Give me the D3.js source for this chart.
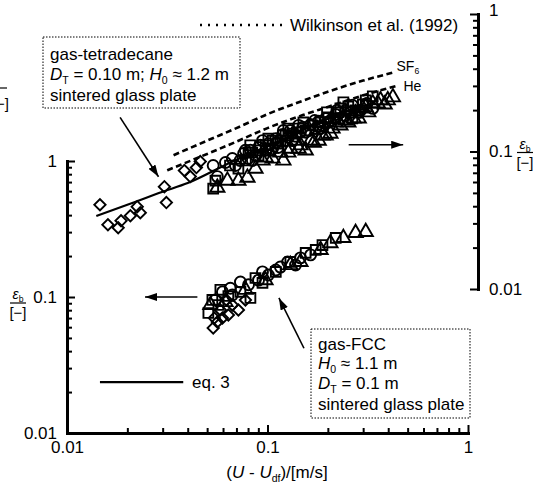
<!DOCTYPE html>
<html lang="en">
<head>
<meta charset="UTF-8">
<title>Gas holdup vs excess gas velocity</title>
<script src="https://d3js.org/d3.v7.min.js"></script>
<style>
  body { margin: 0; background: #fff; }
  svg { font-family: "Liberation Sans", Arial, sans-serif; }
  .axis path { stroke: #000; stroke-width: 3; }
  .axis line { stroke: #000; stroke-width: 2; }
  .axis text { font-size: 17px; fill: #000; font-family: "Liberation Sans", Arial, sans-serif; }
  .note { font-size: 17px; fill: #000; }
</style>
</head>
<body>
<svg id="chart" width="535" height="486"></svg>
<script>
// major tick labels
const xTickLabels = ["0.01", "0.1", "1"];
const yTickLabels = ["0.01", "0.1", "1"];

// gas-tetradecane, read against the right axis
const upperDiamonds = [[0.0146,0.0410],[0.0160,0.0293],[0.0180,0.0279],[0.0186,0.0313],[0.0207,0.0341],
  [0.0224,0.0397],[0.0232,0.0359],[0.0306,0.0555],[0.0313,0.0425],[0.0385,0.0727],[0.0412,0.0657],
  [0.0462,0.0845],[0.0442,0.0764]];
const upperCircles = [[0.0536,0.0791],[0.0562,0.0657],[0.0668,0.0889],[0.0760,0.0967],[0.0822,0.102],
  [0.0902,0.107],[0.0944,0.120],[0.101,0.114],[0.110,0.124],[0.119,0.133],[0.130,0.142],[0.138,0.129],
  [0.150,0.150],[0.164,0.157],[0.180,0.166],[0.195,0.174],[0.219,0.186],[0.245,0.199],[0.073,0.086],
  [0.087,0.0935],[0.123,0.120],[0.146,0.138],[0.174,0.147],[0.206,0.168],[0.098,0.102],[0.113,0.107],
  [0.127,0.127],[0.155,0.138],[0.188,0.155],[0.231,0.174],[0.260,0.193],[0.291,0.199],[0.080,0.0889],
  [0.106,0.105],[0.0617,0.0831],[0.0692,0.0791],[0.0776,0.102],[0.0841,0.086],[0.0922,0.111],
  [0.104,0.102],[0.111,0.116],[0.120,0.142],[0.133,0.120],[0.143,0.155],[0.160,0.142],[0.172,0.168],
  [0.184,0.147],[0.201,0.163],[0.222,0.199],[0.244,0.183],[0.265,0.217],[0.285,0.193],[0.313,0.224],
  [0.335,0.206]];
const upperSquares = [[0.0536,0.0537],[0.055,0.0614],[0.065,0.0791],[0.078,0.086],[0.084,0.0983],
  [0.092,0.102],[0.098,0.111],[0.106,0.120],[0.113,0.114],[0.123,0.131],[0.133,0.135],[0.143,0.147],
  [0.155,0.142],[0.168,0.155],[0.184,0.163],[0.201,0.177],[0.226,0.193],[0.239,0.228],[0.253,0.213],
  [0.275,0.199],[0.299,0.220],[0.082,0.111],[0.0716,0.0751],[0.0804,0.0983],[0.0902,0.0935],
  [0.101,0.124],[0.116,0.120],[0.127,0.147],[0.140,0.138],[0.151,0.163],[0.180,0.152],[0.198,0.193],
  [0.214,0.174],[0.231,0.206],[0.265,0.174],[0.309,0.236],[0.335,0.252]];
const upperTriangles = [[0.0562,0.0546],[0.0631,0.0614],[0.0716,0.0614],[0.0794,0.0646],[0.098,0.0904],
  [0.116,0.0983],[0.120,0.086],[0.130,0.105],[0.146,0.111],[0.155,0.102],[0.170,0.116],[0.180,0.120],
  [0.195,0.131],[0.211,0.147],[0.231,0.155],[0.245,0.168],[0.269,0.174],[0.299,0.206],[0.309,0.210],
  [0.335,0.224],[0.355,0.224],[0.366,0.236],[0.398,0.236],[0.422,0.248],[0.275,0.189],[0.219,0.163],
  [0.138,0.120],[0.0871,0.0751],[0.0944,0.086],[0.106,0.0889],[0.127,0.0983],[0.143,0.105],
  [0.164,0.120],[0.188,0.131],[0.206,0.135],[0.253,0.163],[0.285,0.174],[0.318,0.193],[0.384,0.220]];

// gas-FCC, read against the left axis
const lowerDiamonds = [[0.0536,0.0592],[0.0562,0.0655],[0.0596,0.0701],[0.0638,0.0737],[0.0716,0.0802],
  [0.0543,0.0701],[0.0582,0.0802],[0.0668,0.0873],[0.0624,0.0951],[0.0776,0.0951]];
const lowerSquares = [[0.0507,0.0763],[0.0531,0.0951],[0.0569,0.0873],[0.0638,0.1017],[0.0733,0.109],
  [0.0822,0.0984],[0.0871,0.138],[0.0944,0.127],[0.110,0.153],[0.130,0.181],[0.155,0.211],[0.174,0.222],
  [0.188,0.241],[0.219,0.272],[0.0582,0.113]];
const lowerCircles = [[0.0549,0.0951],[0.0596,0.109],[0.0653,0.116],[0.0733,0.129],[0.0804,0.123],
  [0.0902,0.133],[0.101,0.145],[0.110,0.158],[0.116,0.166],[0.126,0.181],[0.138,0.172],[0.146,0.194],
  [0.164,0.204],[0.0668,0.1035],[0.0944,0.153]];
const lowerTriangles = [[0.0519,0.0873],[0.0617,0.0919],[0.0776,0.113],[0.0977,0.133],[0.130,0.172],
  [0.184,0.222],[0.206,0.249],[0.239,0.272],[0.275,0.296],[0.309,0.301],[0.146,0.181]];

// eq. 3 and Wilkinson et al. (1992) curves (right axis)
const eq3X = [0.014, 0.02, 0.03, 0.04, 0.065, 0.1, 0.15, 0.2, 0.3];
const eq3Y = [0.034, 0.041, 0.051, 0.059, 0.083, 0.109, 0.144, 0.173, 0.219];
const sf6X = [0.034, 0.05, 0.07, 0.1, 0.15, 0.2, 0.3, 0.43];
const sf6Y = [0.094, 0.120, 0.148, 0.187, 0.234, 0.272, 0.328, 0.377];
const heX = [0.0316, 0.05, 0.07, 0.1, 0.15, 0.2, 0.3, 0.45];
const heY = [0.073, 0.096, 0.118, 0.148, 0.184, 0.211, 0.256, 0.303];

const svg = d3.select("#chart");

const x = d3.scaleLog().domain([0.01, 1]).range([67, 468]);
const yLeft = d3.scaleLog().domain([0.01, 1]).range([433, 161]);
const yRight = d3.scaleLog().domain([0.01, 1]).range([289, 14]);

const isMajor = d => Math.abs(Math.log10(d) - Math.round(Math.log10(d))) < 1e-6;
const label = (labels) => d => isMajor(d) ? labels[Math.round(Math.log10(d)) + 2] : "";

// arrow head
svg.append("defs").append("marker")
  .attr("id", "head")
  .attr("viewBox", "0 0 12 8")
  .attr("refX", 12).attr("refY", 4)
  .attr("markerWidth", 12).attr("markerHeight", 8)
  .attr("markerUnits", "userSpaceOnUse")
  .attr("orient", "auto")
  .append("path").attr("d", "M0,0L12,4L0,8Z").attr("fill", "#000");

// axes, ticks inward
const gx = svg.append("g").attr("class", "axis")
  .attr("transform", "translate(0,433)")
  .call(d3.axisBottom(x).tickValues(x.ticks()).tickFormat(label(xTickLabels))
    .tickSizeInner(-5).tickSizeOuter(0).tickPadding(8));
gx.selectAll(".tick line").attr("y2", d => isMajor(d) ? -8 : -5);

const gl = svg.append("g").attr("class", "axis")
  .attr("transform", "translate(67,0)")
  .call(d3.axisLeft(yLeft).tickValues(yLeft.ticks()).tickFormat(label(yTickLabels))
    .tickSizeInner(-5).tickSizeOuter(0).tickPadding(10));
gl.selectAll(".tick line").attr("x2", d => isMajor(d) ? 8 : 5);

const gr = svg.append("g").attr("class", "axis")
  .attr("transform", "translate(478,0)")
  .call(d3.axisRight(yRight).tickValues(yRight.ticks()).tickFormat(label(yTickLabels))
    .tickSizeInner(-5).tickSizeOuter(0).tickPadding(11));
gr.selectAll(".tick line").attr("x2", d => isMajor(d) ? -8 : -5);
gr.selectAll(".tick text").attr("dy", d => d === 1 ? "0.1em" : "0.32em");

svg.selectAll(".axis path").attr("stroke-linecap", "square");

// helper for text with italics and subscripts
function rich(g, px, py, parts, size, anchor) {
  const t = g.append("text").attr("x", px).attr("y", py)
    .attr("font-size", size).attr("text-anchor", anchor || "start").attr("fill", "#000");
  let shift = 0;
  parts.forEach(p => {
    const s = t.append("tspan").text(p.t);
    const want = p.sub ? size * 0.22 : 0;
    if (want !== shift) { s.attr("dy", want - shift); shift = want; }
    if (p.sub) s.attr("font-size", size * 0.62);
    if (p.it) s.attr("font-style", "italic");
  });
  return t;
}

// curves
const lineOf = (xs, ys, yScale) => d3.line().curve(d3.curveMonotoneX)
  .x((d, i) => x(xs[i])).y((d, i) => yScale(ys[i]))(xs);

svg.append("path").attr("d", lineOf(sf6X, sf6Y, yRight))
  .attr("fill", "none").attr("stroke", "#000").attr("stroke-width", 2.6).attr("stroke-dasharray", "6,3.5");
svg.append("path").attr("d", lineOf(heX, heY, yRight))
  .attr("fill", "none").attr("stroke", "#000").attr("stroke-width", 2.6).attr("stroke-dasharray", "6,3.5");
svg.append("path").attr("d", lineOf(eq3X, eq3Y, yRight))
  .attr("fill", "none").attr("stroke", "#000").attr("stroke-width", 2.2);

rich(svg, x(sf6X[sf6X.length - 1]) + 2, yRight(sf6Y[sf6Y.length - 1]) - 1, [{t: "SF"}, {t: "6", sub: true}], 14);
rich(svg, x(heX[heX.length - 1]) + 5, yRight(heY[heY.length - 1]) + 6, [{t: "He"}], 14);

// markers
const sq = d3.symbol().type(d3.symbolSquare).size(96)();
const dia = d3.symbol().type(d3.symbolSquare).size(64)();
const cir = d3.symbol().type(d3.symbolCircle).size(95)();
const tri = d3.symbol().type(d3.symbolTriangle).size(88)();

function drawSet(data, path, yScale, rot) {
  svg.append("g").selectAll("path").data(data).join("path")
    .attr("d", path)
    .attr("transform", d => `translate(${x(d[0])},${yScale(d[1])})` + (rot ? " rotate(45)" : ""))
    .attr("fill", "none").attr("stroke", "#000").attr("stroke-width", 1.9);
}
drawSet(upperSquares, sq, yRight);
drawSet(upperCircles, cir, yRight);
drawSet(upperTriangles, tri, yRight);
drawSet(upperDiamonds, dia, yRight, true);
drawSet(lowerSquares, sq, yLeft);
drawSet(lowerCircles, cir, yLeft);
drawSet(lowerTriangles, tri, yLeft);
drawSet(lowerDiamonds, dia, yLeft, true);

// arrows pointing to the axis each data set belongs to
function arrow(x1, y1, x2, y2) {
  svg.append("line").attr("x1", x1).attr("y1", y1).attr("x2", x2).attr("y2", y2)
    .attr("stroke", "#000").attr("stroke-width", 1.6).attr("marker-end", "url(#head)");
}
arrow(x(0.254), yRight(0.112), x(0.475), yRight(0.112));
arrow(x(0.0447), yLeft(0.1), x(0.0245), yLeft(0.1));
arrow(x(0.0184), yRight(0.177), x(0.0286), yRight(0.0655));
arrow(x(0.152), yLeft(0.042), x(0.114), yLeft(0.0984));

// Wilkinson legend
svg.append("line").attr("x1", 200).attr("y1", 25).attr("x2", 284).attr("y2", 25)
  .attr("stroke", "#000").attr("stroke-width", 2.4).attr("stroke-dasharray", "2,6");
svg.append("text").attr("class", "note").attr("x", 290).attr("y", 31).text("Wilkinson et al. (1992)");

// eq. 3 legend
svg.append("line").attr("x1", x(0.0146)).attr("x2", x(0.038))
  .attr("y1", yLeft(0.0237)).attr("y2", yLeft(0.0237))
  .attr("stroke", "#000").attr("stroke-width", 2.2);
svg.append("text").attr("class", "note").attr("x", 192).attr("y", 388).text("eq. 3");

// annotation boxes
svg.append("rect").attr("x", 43).attr("y", 37).attr("width", 197).attr("height", 71)
  .attr("fill", "none").attr("stroke", "#000").attr("stroke-width", 1).attr("stroke-dasharray", "1.5,1.5");
svg.append("text").attr("class", "note").attr("x", 50).attr("y", 60).text("gas-tetradecane");
rich(svg, 50, 80, [{t: "D", it: true}, {t: "T", sub: true}, {t: " = 0.10 m; "}, {t: "H", it: true},
  {t: "0", sub: true}, {t: " \u2248 1.2 m"}], 17);
svg.append("text").attr("class", "note").attr("x", 50).attr("y", 101).text("sintered glass plate");

svg.append("rect").attr("x", 311).attr("y", 329).attr("width", 159).attr("height", 89)
  .attr("fill", "none").attr("stroke", "#000").attr("stroke-width", 1).attr("stroke-dasharray", "1.5,1.5");
svg.append("text").attr("class", "note").attr("x", 318).attr("y", 350).text("gas-FCC");
rich(svg, 318, 369, [{t: "H", it: true}, {t: "0", sub: true}, {t: " \u2248 1.1 m"}], 17);
rich(svg, 318, 389, [{t: "D", it: true}, {t: "T", sub: true}, {t: " = 0.1 m"}], 17);
svg.append("text").attr("class", "note").attr("x", 318).attr("y", 410).text("sintered glass plate");

// axis titles
rich(svg, 277, 478, [{t: "("}, {t: "U", it: true}, {t: " - "}, {t: "U", it: true}, {t: "df", sub: true},
  {t: ")/[m/s]"}], 17, "middle");

function fraction(cx, cy) {
  rich(svg, cx, cy - 4, [{t: "\u03b5", it: true}, {t: "b", sub: true}], 14, "middle");
  svg.append("line").attr("x1", cx - 8).attr("x2", cx + 8).attr("y1", cy).attr("y2", cy)
    .attr("stroke", "#000").attr("stroke-width", 1.2);
  svg.append("text").attr("x", cx).attr("y", cy + 15).attr("font-size", 15)
    .attr("text-anchor", "middle").text("[\u2212]");
}
fraction(18, yLeft(0.1) + 6);
fraction(525, yRight(0.1) + 1);

// cut-off label from the neighbouring panel
svg.append("line").attr("x1", -5).attr("x2", 7).attr("y1", 88).attr("y2", 88)
  .attr("stroke", "#000").attr("stroke-width", 1.2);
svg.append("text").attr("x", 9).attr("y", 109).attr("font-size", 15)
  .attr("text-anchor", "end").text("[\u2212]");
</script>
</body>
</html>
